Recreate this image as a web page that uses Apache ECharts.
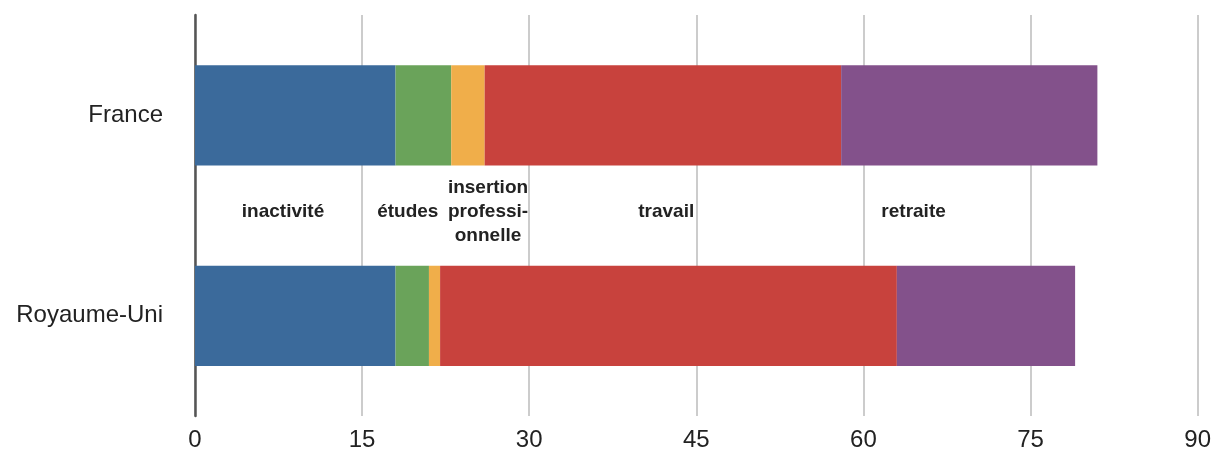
<!DOCTYPE html>
<html>
<head>
<meta charset="utf-8">
<script src="https://cdn.jsdelivr.net/npm/echarts@6/dist/echarts.min.js"></script>
<style>
  html, body { margin: 0; padding: 0; background: #fff; }
  #chart { width: 1214px; height: 452px; }
</style>
</head>
<body>
<div id="chart"></div>
<script>
// pays, du haut vers le bas
const countries = ['France', 'Royaume-Uni'];
const phases = ['inactivité', 'études', 'insertion\nprofessi-\nonnelle', 'travail', 'retraite'];
// années passées dans chaque phase [France, Royaume-Uni]
const inactivite = [18, 18];
const etudes = [5, 3];
const insertion = [3, 1];
const travail = [32, 41];
const retraite = [23, 16];
// position (en années) des étiquettes entre les barres
const phaseLabelX = [7.9, 19.1, 26.3, 42.3, 64.5];
const xTicks = [0, 15, 30, 45, 60, 75, 90];

const colors = ['#3b6a9b', '#6aa35a', '#f0ae4a', '#c8423d', '#83518b'];
const values = [inactivite, etudes, insertion, travail, retraite];

const chart = echarts.init(document.getElementById('chart'));

chart.setOption({
  animation: false,
  grid: { left: 195, right: 16, top: 15, bottom: 35 },
  xAxis: {
    type: 'value',
    min: xTicks[0],
    max: xTicks[xTicks.length - 1],
    interval: 15,
    axisLine: { show: false },
    axisTick: { show: false },
    axisLabel: { color: '#222', fontSize: 24, fontFamily: 'Liberation Sans', margin: 12 },
    splitLine: { lineStyle: { color: '#cccccc', width: 2 } }
  },
  yAxis: {
    type: 'category',
    inverse: true,
    data: countries,
    axisLine: { show: true, lineStyle: { color: '#555', width: 2.5 } },
    axisTick: { show: false },
    axisLabel: { color: '#222', fontSize: 24, fontFamily: 'Liberation Sans', margin: 32 }
  },
  series: phases.map((name, i) => ({
    name: name,
    type: 'bar',
    stack: 'vie',
    barWidth: '50%',
    itemStyle: { color: colors[i] },
    data: values[i]
  }))
});

// étiquettes des phases, placées entre les deux barres
const yTop = chart.convertToPixel({ yAxisIndex: 0 }, countries[0]);
const yBottom = chart.convertToPixel({ yAxisIndex: 0 }, countries[1]);
const yMid = (yTop + yBottom) / 2 - 4;
chart.setOption({
  graphic: phases.map((name, i) => ({
    type: 'text',
    x: chart.convertToPixel({ xAxisIndex: 0 }, phaseLabelX[i]),
    y: yMid,
    style: {
      text: name,
      fill: '#222',
      font: 'bold 19px "Liberation Sans", Arial, sans-serif',
      align: 'center',
      verticalAlign: 'middle',
      lineHeight: 24
    }
  }))
});
</script>
</body>
</html>
